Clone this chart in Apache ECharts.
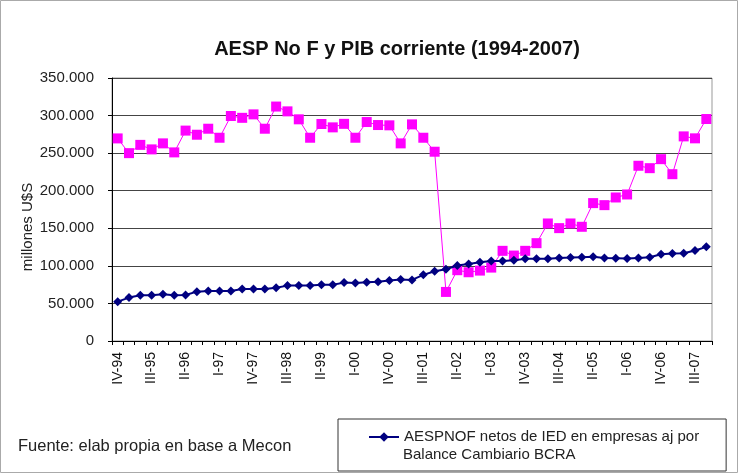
<!DOCTYPE html>
<html>
<head>
<meta charset="utf-8">
<script src="https://cdn.jsdelivr.net/npm/echarts@6/dist/echarts.min.js"></script>
<style>
html, body { margin: 0; padding: 0; background: #fff; }
#chart1 { width: 747px; height: 476px; }
</style>
</head>
<body>
<div id="chart1"></div>
<script>
var quarters = [];
var romans = ['I', 'II', 'III', 'IV'];
quarters.push('IV-94');
for (var y = 95; y <= 107; y++) {
    for (var q = 0; q < 4; q++) {
        quarters.push(romans[q] + '-' + String(y % 100).padStart(2, '0'));
    }
}
// IV-94 .. IV-07
quarters = quarters.slice(0, 53);

// millones U$S
var pib = [
    269600, 250000, 261000, 255000, 263000, 251000, 280000, 274500, 282500, 270500,
    299400, 297000, 301600, 282500, 312000, 305600, 295000, 270500, 288800, 284300,
    289000, 270500, 291400, 287400, 287000, 263000, 288300, 270500, 251900, 65300,
    94200, 91500, 93700, 97700, 120000, 113700, 120000, 130200, 156400, 150200,
    156400, 152000, 183500, 180800, 191000, 195000, 233200, 230000, 242000, 222000,
    272300, 269700, 295400
];
var aespnof = [
    52400, 57800, 60900, 60900, 62200, 60900, 61300, 65700, 66600, 66600,
    66600, 69300, 69300, 69300, 71000, 73700, 73700, 73700, 75000, 75000,
    77700, 77300, 78200, 79000, 80400, 81700, 81300, 88000, 92800, 95500,
    100400, 102600, 104800, 106600, 106600, 107500, 109300, 109300, 109300, 110600,
    111000, 111500, 112000, 110600, 110200, 109700, 110600, 111500, 115500, 116400,
    116800, 120400, 125300
];

var serieName = 'AESPNOF netos de IED en empresas aj por';

function miles(v) {
    return String(v).replace(/\B(?=(\d{3})+(?!\d))/g, '.');
}

var myChart = echarts.init(document.getElementById('chart1'));

option = {
    animation: false,
    textStyle: { fontFamily: 'Liberation Sans, Arial, sans-serif' },
    title: {
        text: 'AESP No F y PIB corriente (1994-2007)',
        left: 392,
        textAlign: 'center',
        top: 34,
        textStyle: { color: '#111', fontSize: 20, fontWeight: 'bold' }
    },
    grid: {
        left: 112, right: 35, top: 78, bottom: 135,
        show: true, borderColor: '#999', borderWidth: 1
    },
    legend: {
        data: [serieName],
        left: 338,
        top: 419,
        padding: [9, 27, 25, 30],
        itemWidth: 30,
        itemHeight: 12,
        borderColor: '#333',
        borderWidth: 1,
        textStyle: { fontSize: 15, lineHeight: 18, color: '#222' }
    },
    graphic: [
        {
            type: 'rect',
            shape: { x: 0.5, y: 0.5, width: 737, height: 472 },
            style: { fill: 'none', stroke: '#aaa', lineWidth: 1 },
            silent: true
        },
        {
            type: 'text',
            left: 18, top: 438,
            style: { text: 'Fuente: elab propia en base a Mecon', fontSize: 16.5, fill: '#222' }
        },
        {
            type: 'text',
            left: 403, top: 447,
            style: { text: 'Balance Cambiario BCRA', fontSize: 15, fill: '#222' }
        }
    ],
    xAxis: {
        type: 'category',
        data: quarters,
        boundaryGap: true,
        axisLine: { lineStyle: { color: '#000' } },
        axisTick: { show: true, interval: 0, length: 4, lineStyle: { color: '#000' } },
        axisLabel: { interval: 2, rotate: 90, fontSize: 14, color: '#111', margin: 11 }
    },
    yAxis: {
        type: 'value',
        min: 0, max: 350000, interval: 50000,
        name: 'millones U$S',
        nameLocation: 'middle',
        nameGap: 77,
        nameMoveOverlap: false,
        nameTextStyle: { fontSize: 15, color: '#222', padding: [0, 35, 0, 0] },
        axisLine: { show: true, lineStyle: { color: '#000' } },
        axisTick: { show: true, length: 4, lineStyle: { color: '#000' } },
        splitLine: { lineStyle: { color: '#444', width: 1 } },
        axisLabel: {
            fontSize: 15, color: '#222', margin: 18,
            formatter: function (v) { return miles(v); }
        }
    },
    series: [
        {
            name: 'PIB corriente',
            type: 'line',
            data: pib,
            showAllSymbol: true,
            symbol: 'rect',
            symbolSize: 10,
            itemStyle: { color: '#ff00ff' },
            lineStyle: { color: '#ff00ff', width: 1 },
            z: 2
        },
        {
            name: serieName,
            type: 'line',
            data: aespnof,
            showAllSymbol: true,
            symbol: 'diamond',
            symbolSize: 9,
            itemStyle: { color: '#000080' },
            lineStyle: { color: '#000080', width: 2 },
            z: 3
        }
    ]
};
myChart.setOption(option);
</script>
</body>
</html>
